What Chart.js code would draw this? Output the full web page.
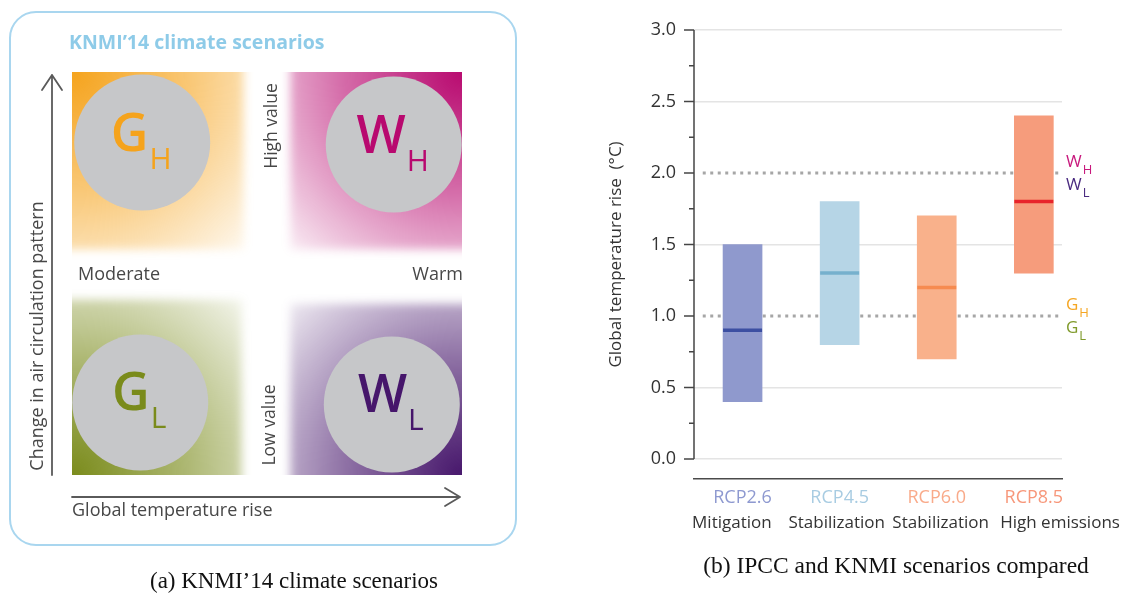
<!DOCTYPE html>
<html><head><meta charset="utf-8">
<script src="https://cdn.jsdelivr.net/npm/chart.js@4.4.1/dist/chart.umd.min.js"></script>
<style>
html,body{margin:0;padding:0;background:#fff;}
body{width:1128px;height:593px;position:relative;overflow:hidden;}
#cA{position:absolute;left:0;top:0;}
#cB{position:absolute;left:530px;top:0;}
</style></head><body>
<canvas id="cA" width="530" height="593"></canvas>
<canvas id="cB" width="598" height="593"></canvas>
<script>
// ---------- Panel (a): KNMI'14 scenarios ----------
const scenarioLetters = ['G', 'W', 'G', 'W'];
const scenarioSubs = ['H', 'H', 'L', 'L'];
const scenarioTempRise = [0.18, 0.825, 0.175, 0.82];   // x (relative)
const scenarioCirculation = [0.825, 0.82, 0.18, 0.175]; // y (relative)
const scenarioColors = ['#f5a31c', '#b8096f', '#7a8b1b', '#46166b'];

// ---------- Panel (b): IPCC vs KNMI ----------
const rcpLabels = ['RCP2.6', 'RCP4.5', 'RCP6.0', 'RCP8.5'];
const rcpDescriptions = ['Mitigation', 'Stabilization', 'Stabilization', 'High emissions'];
const rcpDescriptionAnchors = [-0.11, 0.97, 2.04, 3.27];
const rcpLow = [0.4, 0.8, 0.7, 1.3];
const rcpHigh = [1.5, 1.8, 1.7, 2.4];
const rcpMedian = [0.9, 1.3, 1.2, 1.8];
const yMajorTicks = [0, 0.5, 1.0, 1.5, 2.0, 2.5, 3.0];
const yMinorTicks = [0.25, 0.75, 1.25, 1.75, 2.25, 2.75];
const knmiLevels = [1.0, 2.0];
const knmiLevelLabels = [
  [['G', 'H', '#f5a623'], ['G', 'L', '#7f9a2a']],
  [['W', 'H', '#c8197d'], ['W', 'L', '#4a2a80']]
];

const rcpBarColors = ['#8f99cd', '#b6d5e6', '#f9b18b', '#f69c7c'];
const rcpMedianColors = ['#3c4fa2', '#76b0cd', '#f68b50', '#e8242b'];
const rcpLabelColors = ['#8e99d0', '#a8cce2', '#f9aa8a', '#f7977a'];

const SANS = "'Open Sans', 'Noto Sans', sans-serif";
const SERIF = "'Liberation Serif', 'DejaVu Serif', serif";

// ---------------- Chart A ----------------
function hexRgb(h) {
  const n = parseInt(h.slice(1), 16);
  return [(n >> 16) & 255, (n >> 8) & 255, n & 255];
}
function quadFill(ctx, area, rect, corner, color) {
  const [r, g, b] = hexRgb(color);
  ctx.save();
  ctx.beginPath();
  ctx.rect(area.left, area.top, area.right - area.left, area.bottom - area.top);
  ctx.clip();
  ctx.filter = 'blur(5px)';
  const rad = 265;
  const grd = ctx.createRadialGradient(corner[0], corner[1], 0, corner[0], corner[1], rad);
  grd.addColorStop(0, `rgba(${r},${g},${b},1)`);
  grd.addColorStop(0.45, `rgba(${r},${g},${b},0.6)`);
  grd.addColorStop(0.8, `rgba(${r},${g},${b},0.22)`);
  grd.addColorStop(1, `rgba(${r},${g},${b},0)`);
  ctx.fillStyle = grd;
  ctx.fillRect(rect[0], rect[1], rect[2] - rect[0], rect[3] - rect[1]);
  ctx.restore();
}

const panelAPlugin = {
  id: 'panelA',
  beforeDatasetsDraw(chart) {
    const ctx = chart.ctx;
    const a = chart.chartArea;
    const L = a.left, R = a.right, T = a.top, B = a.bottom;
    const W = R - L, H = B - T;
    // rounded frame
    ctx.save();
    ctx.strokeStyle = '#a9d6ef';
    ctx.lineWidth = 2;
    ctx.beginPath();
    ctx.roundRect(10, 12, 506, 533, 26);
    ctx.stroke();
    // title
    ctx.fillStyle = '#8ecbe8';
    ctx.font = `bold 19.5px ${SANS}`;
    ctx.textAlign = 'left';
    ctx.textBaseline = 'middle';
    ctx.fillText('KNMI\u201914 climate scenarios', 69, 43);
    ctx.restore();

    // quadrants
    const e = 20;
    quadFill(ctx, a, [L - e, T - e, L + 0.44 * W, T + 0.44 * H], [L, T], scenarioColors[0]);
    quadFill(ctx, a, [L + 0.56 * W, T - e, R + e, T + 0.44 * H], [R, T], scenarioColors[1]);
    quadFill(ctx, a, [L - e, T + 0.565 * H, L + 0.435 * W, B + e], [L, B], scenarioColors[2]);
    quadFill(ctx, a, [L + 0.56 * W, T + 0.575 * H, R + e, B + e], [R, B], scenarioColors[3]);

    // arrows
    ctx.save();
    ctx.strokeStyle = '#5a5a5a';
    ctx.lineWidth = 1.8;
    ctx.lineCap = 'round';
    ctx.lineJoin = 'round';
    ctx.beginPath();
    ctx.moveTo(52, B); ctx.lineTo(52, T + 3);
    ctx.moveTo(42, T + 18); ctx.lineTo(52, T + 3); ctx.lineTo(62, T + 18);
    ctx.moveTo(L, 497); ctx.lineTo(R - 2, 497);
    ctx.moveTo(R - 17, 488); ctx.lineTo(R - 2, 497); ctx.lineTo(R - 17, 506);
    ctx.stroke();

    // labels
    ctx.fillStyle = '#474747';
    ctx.font = `18px ${SANS}`;
    ctx.textBaseline = 'middle';
    ctx.textAlign = 'left';
    ctx.fillText('Global temperature rise', L, 511);
    ctx.fillText('Moderate', 78, 275);
    ctx.textAlign = 'right';
    ctx.fillText('Warm', 463, 275);
    const rot = (txt, x, y, size) => {
      ctx.save();
      ctx.translate(x, y);
      ctx.rotate(-Math.PI / 2);
      ctx.textAlign = 'center';
      ctx.font = `${size}px ${SANS}`;
      ctx.fillText(txt, 0, 0);
      ctx.restore();
    };
    rot('Change in air circulation pattern', 38, 336, 18);
    rot('High value', 272, 126, 17.5);
    rot('Low value', 270, 425, 17.5);

    // caption
    ctx.fillStyle = '#111';
    ctx.font = `23px ${SERIF}`;
    ctx.textAlign = 'center';
    ctx.fillText('(a) KNMI\u201914 climate scenarios', 294, 582);
    ctx.restore();
  },
  afterDatasetsDraw(chart) {
    const ctx = chart.ctx;
    const pts = chart.getDatasetMeta(0).data;
    ctx.save();
    ctx.textBaseline = 'alphabetic';
    pts.forEach((p, i) => {
      ctx.fillStyle = scenarioColors[i];
      ctx.font = `600 52px ${SANS}`;
      const mw = ctx.measureText(scenarioLetters[i]).width;
      ctx.font = `500 30px ${SANS}`;
      const sw = ctx.measureText(scenarioSubs[i]).width;
      const total = mw + 1 + sw;
      const x0 = p.x - total / 2 - 1;
      ctx.font = `600 52px ${SANS}`;
      ctx.textAlign = 'left';
      ctx.fillText(scenarioLetters[i], x0, p.y + 8);
      ctx.font = `500 30px ${SANS}`;
      ctx.fillText(scenarioSubs[i], x0 + mw + 1, p.y + 26);
    });
    ctx.restore();
  }
};

new Chart(document.getElementById('cA'), {
  type: 'bubble',
  data: {
    datasets: [{
      data: scenarioTempRise.map((x, i) => ({ x, y: scenarioCirculation[i] })),
      radius: 68,
      backgroundColor: '#c6c7c9',
      borderWidth: 0,
      clip: false
    }]
  },
  options: {
    responsive: false,
    animation: false,
    events: [],
    layout: { padding: { left: 72, top: 72, right: 60, bottom: 118 } },
    plugins: { legend: { display: false }, tooltip: { enabled: false } },
    scales: {
      x: { type: 'linear', min: 0, max: 1, display: false },
      y: { type: 'linear', min: 0, max: 1, display: false }
    }
  },
  plugins: [panelAPlugin]
});

// ---------------- Chart B ----------------
const xMin = -0.5, xMax = 3.29, refLineStart = -0.41;
const xPos = rcpLabels.map((_, i) => i);

const panelBPlugin = {
  id: 'panelB',
  afterDraw(chart) {
    const ctx = chart.ctx;
    const a = chart.chartArea;
    const ys = chart.scales.y;
    ctx.save();
    ctx.strokeStyle = '#454545';
    ctx.lineWidth = 1.5;
    ctx.beginPath();
    const x0 = a.left;
    ctx.moveTo(x0, ys.getPixelForValue(0));
    ctx.lineTo(x0, ys.getPixelForValue(3));
    yMajorTicks.forEach(v => {
      const y = ys.getPixelForValue(v);
      ctx.moveTo(x0 - 10, y); ctx.lineTo(x0, y);
    });
    yMinorTicks.forEach(v => {
      const y = ys.getPixelForValue(v);
      ctx.moveTo(x0 - 5, y); ctx.lineTo(x0, y);
    });
    ctx.stroke();

    // KNMI labels on the right
    ctx.textBaseline = 'alphabetic';
    ctx.textAlign = 'left';
    knmiLevels.forEach((lv, k) => {
      const y = ys.getPixelForValue(lv);
      knmiLevelLabels[k].forEach((lab, j) => {
        const by = y - 6 + j * 23;
        ctx.fillStyle = lab[2];
        ctx.font = `17px ${SANS}`;
        const w = ctx.measureText(lab[0]).width;
        const lx = a.right + 4;
        ctx.fillText(lab[0], lx, by);
        ctx.font = `13px ${SANS}`;
        ctx.fillText(lab[1], lx + w + 1, by + 7);
      });
    });

    // caption
    ctx.fillStyle = '#111';
    ctx.font = `23.5px ${SERIF}`;
    ctx.textAlign = 'center';
    ctx.textBaseline = 'middle';
    ctx.fillText('(b) IPCC and KNMI scenarios compared', 366, 567);
    ctx.restore();
  }
};

new Chart(document.getElementById('cB'), {
  type: 'bar',
  data: {
    datasets: [
      {
        type: 'bar',
        data: xPos.map((x, i) => ({ x, y: [rcpLow[i], rcpHigh[i]] })),
        backgroundColor: rcpBarColors,
        borderWidth: 0,
        barThickness: 39,
        order: 2
      },
      {
        type: 'scatter',
        data: xPos.map((x, i) => ({ x, y: rcpMedian[i] })),
        pointStyle: 'line',
        radius: 19.5,
        borderWidth: 3.5,
        borderColor: rcpMedianColors,
        order: 1
      },
      ...knmiLevels.map(v => ({
        type: 'line',
        data: [{ x: refLineStart, y: v }, { x: xMax, y: v }],
        borderColor: '#a6a6a6',
        borderWidth: 3,
        borderDash: [3, 4.5],
        borderCapStyle: 'butt',
        pointRadius: 0,
        order: 3
      }))
    ]
  },
  options: {
    responsive: false,
    animation: false,
    events: [],
    layout: { padding: { left: 76, right: 66, top: 30, bottom: 60 } },
    plugins: { legend: { display: false }, tooltip: { enabled: false } },
    scales: {
      x: {
        type: 'linear', position: 'bottom', min: xMin, max: xMax, offset: false,
        grid: { display: false, drawTicks: false },
        border: { display: true, color: '#4a4a4a', width: 1.5 },
        afterBuildTicks: s => { s.ticks = xPos.map(v => ({ value: v })); },
        afterFit: s => { s.height = 28; },
        ticks: {
          autoSkip: false, maxRotation: 0, padding: 8,
          font: { family: SANS, size: 18 },
          color: c => rcpLabelColors[c.index],
          callback: (v, i) => rcpLabels[i]
        }
      },
      x2: {
        type: 'linear', position: 'bottom', min: xMin, max: xMax, offset: false,
        grid: { display: false, drawTicks: false },
        border: { display: false },
        afterBuildTicks: s => { s.ticks = rcpDescriptionAnchors.map(v => ({ value: v })); },
        afterFit: s => { s.height = 26; },
        ticks: {
          autoSkip: false, maxRotation: 0, padding: 6,
          font: { family: SANS, size: 17 },
          color: '#333',
          callback: (v, i) => rcpDescriptions[i]
        }
      },
      y: {
        type: 'linear', min: -0.14, max: 3.0,
        border: { display: false },
        grid: {
          drawTicks: false,
          lineWidth: 1.5,
          color: c => knmiLevels.includes(c.tick && c.tick.value) ? 'rgba(0,0,0,0)' : '#e4e4e4'
        },
        afterBuildTicks: s => { s.ticks = yMajorTicks.map(v => ({ value: v })); },
        afterFit: s => { s.width = 88; },
        ticks: {
          autoSkip: false, padding: 18,
          font: { family: SANS, size: 18 },
          color: '#333',
          callback: v => v.toFixed(1)
        },
        title: {
          display: true,
          text: 'Global temperature rise  (\u00b0C)',
          font: { family: SANS, size: 17 },
          color: '#333',
          padding: { top: 0, bottom: 0 }
        }
      }
    }
  },
  plugins: [panelBPlugin]
});
</script>
</body></html>
